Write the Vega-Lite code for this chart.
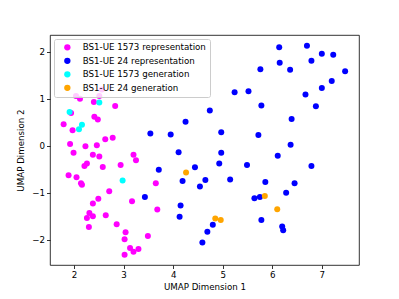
{
  "$schema": "https://vega.github.io/schema/vega-lite/v6.json",
  "autosize": "none",
  "width": 309,
  "height": 230,
  "padding": {"left": 50, "top": 35, "right": 40, "bottom": 34},
  "background": "white",
  "config": {
    "font": "DejaVu Sans",
    "view": {"stroke": "black", "strokeWidth": 0.8}
  },
  "datasets": {
    "pts": [
      {"g": "BS1-UE 1573 representation", "x": 2.56, "y": 1.20},
      {"g": "BS1-UE 1573 representation", "x": 2.04, "y": 1.06},
      {"g": "BS1-UE 1573 representation", "x": 2.12, "y": 1.00},
      {"g": "BS1-UE 1573 representation", "x": 2.51, "y": 1.06},
      {"g": "BS1-UE 1573 representation", "x": 2.40, "y": 0.93},
      {"g": "BS1-UE 1573 representation", "x": 2.83, "y": 0.85},
      {"g": "BS1-UE 1573 representation", "x": 1.94, "y": 0.70},
      {"g": "BS1-UE 1573 representation", "x": 2.41, "y": 0.62},
      {"g": "BS1-UE 1573 representation", "x": 2.48, "y": 0.56},
      {"g": "BS1-UE 1573 representation", "x": 1.79, "y": 0.46},
      {"g": "BS1-UE 1573 representation", "x": 1.97, "y": 0.33},
      {"g": "BS1-UE 1573 representation", "x": 1.92, "y": 0.04},
      {"g": "BS1-UE 1573 representation", "x": 2.23, "y": -0.01},
      {"g": "BS1-UE 1573 representation", "x": 2.46, "y": 0.01},
      {"g": "BS1-UE 1573 representation", "x": 2.63, "y": 0.14},
      {"g": "BS1-UE 1573 representation", "x": 2.78, "y": 0.17},
      {"g": "BS1-UE 1573 representation", "x": 1.99, "y": -0.15},
      {"g": "BS1-UE 1573 representation", "x": 2.38, "y": -0.19},
      {"g": "BS1-UE 1573 representation", "x": 2.51, "y": -0.23},
      {"g": "BS1-UE 1573 representation", "x": 3.20, "y": -0.19},
      {"g": "BS1-UE 1573 representation", "x": 3.25, "y": -0.31},
      {"g": "BS1-UE 1573 representation", "x": 2.21, "y": -0.43},
      {"g": "BS1-UE 1573 representation", "x": 2.26, "y": -0.38},
      {"g": "BS1-UE 1573 representation", "x": 2.58, "y": -0.45},
      {"g": "BS1-UE 1573 representation", "x": 2.94, "y": -0.41},
      {"g": "BS1-UE 1573 representation", "x": 1.89, "y": -0.63},
      {"g": "BS1-UE 1573 representation", "x": 2.05, "y": -0.67},
      {"g": "BS1-UE 1573 representation", "x": 2.14, "y": -0.80},
      {"g": "BS1-UE 1573 representation", "x": 2.16, "y": -0.83},
      {"g": "BS1-UE 1573 representation", "x": 3.65, "y": -0.80},
      {"g": "BS1-UE 1573 representation", "x": 2.71, "y": -0.97},
      {"g": "BS1-UE 1573 representation", "x": 2.49, "y": -1.13},
      {"g": "BS1-UE 1573 representation", "x": 3.17, "y": -1.18},
      {"g": "BS1-UE 1573 representation", "x": 2.38, "y": -1.23},
      {"g": "BS1-UE 1573 representation", "x": 3.68, "y": -1.36},
      {"g": "BS1-UE 1573 representation", "x": 2.31, "y": -1.43},
      {"g": "BS1-UE 1573 representation", "x": 2.26, "y": -1.54},
      {"g": "BS1-UE 1573 representation", "x": 2.38, "y": -1.50},
      {"g": "BS1-UE 1573 representation", "x": 2.64, "y": -1.48},
      {"g": "BS1-UE 1573 representation", "x": 2.30, "y": -1.73},
      {"g": "BS1-UE 1573 representation", "x": 2.86, "y": -1.67},
      {"g": "BS1-UE 1573 representation", "x": 3.04, "y": -1.84},
      {"g": "BS1-UE 1573 representation", "x": 3.02, "y": -1.99},
      {"g": "BS1-UE 1573 representation", "x": 3.49, "y": -1.92},
      {"g": "BS1-UE 1573 representation", "x": 3.13, "y": -2.18},
      {"g": "BS1-UE 1573 representation", "x": 3.20, "y": -2.26},
      {"g": "BS1-UE 1573 representation", "x": 3.30, "y": -2.20},
      {"g": "BS1-UE 1573 representation", "x": 3.02, "y": -2.32},
      {"g": "BS1-UE 24 representation", "x": 4.25, "y": 0.51},
      {"g": "BS1-UE 24 representation", "x": 3.54, "y": 0.26},
      {"g": "BS1-UE 24 representation", "x": 3.95, "y": 0.24},
      {"g": "BS1-UE 24 representation", "x": 4.74, "y": 0.75},
      {"g": "BS1-UE 24 representation", "x": 4.97, "y": 0.29},
      {"g": "BS1-UE 24 representation", "x": 5.24, "y": 1.14},
      {"g": "BS1-UE 24 representation", "x": 5.52, "y": 1.16},
      {"g": "BS1-UE 24 representation", "x": 6.14, "y": 2.10},
      {"g": "BS1-UE 24 representation", "x": 6.70, "y": 2.13},
      {"g": "BS1-UE 24 representation", "x": 7.00, "y": 1.96},
      {"g": "BS1-UE 24 representation", "x": 7.23, "y": 1.94},
      {"g": "BS1-UE 24 representation", "x": 6.15, "y": 1.77},
      {"g": "BS1-UE 24 representation", "x": 6.79, "y": 1.81},
      {"g": "BS1-UE 24 representation", "x": 5.76, "y": 1.63},
      {"g": "BS1-UE 24 representation", "x": 6.36, "y": 1.62},
      {"g": "BS1-UE 24 representation", "x": 7.47, "y": 1.59},
      {"g": "BS1-UE 24 representation", "x": 7.20, "y": 1.38},
      {"g": "BS1-UE 24 representation", "x": 7.00, "y": 1.23},
      {"g": "BS1-UE 24 representation", "x": 6.67, "y": 1.09},
      {"g": "BS1-UE 24 representation", "x": 5.78, "y": 0.86},
      {"g": "BS1-UE 24 representation", "x": 6.88, "y": 0.84},
      {"g": "BS1-UE 24 representation", "x": 6.39, "y": 0.57},
      {"g": "BS1-UE 24 representation", "x": 5.72, "y": 0.23},
      {"g": "BS1-UE 24 representation", "x": 6.37, "y": 0.02},
      {"g": "BS1-UE 24 representation", "x": 6.11, "y": -0.21},
      {"g": "BS1-UE 24 representation", "x": 6.79, "y": -0.43},
      {"g": "BS1-UE 24 representation", "x": 5.86, "y": -0.77},
      {"g": "BS1-UE 24 representation", "x": 6.45, "y": -0.80},
      {"g": "BS1-UE 24 representation", "x": 6.28, "y": -1.00},
      {"g": "BS1-UE 24 representation", "x": 5.75, "y": -1.09},
      {"g": "BS1-UE 24 representation", "x": 5.64, "y": -1.12},
      {"g": "BS1-UE 24 representation", "x": 5.78, "y": -1.58},
      {"g": "BS1-UE 24 representation", "x": 6.20, "y": -1.72},
      {"g": "BS1-UE 24 representation", "x": 6.22, "y": -1.80},
      {"g": "BS1-UE 24 representation", "x": 4.11, "y": -0.14},
      {"g": "BS1-UE 24 representation", "x": 4.97, "y": -0.15},
      {"g": "BS1-UE 24 representation", "x": 3.71, "y": -0.51},
      {"g": "BS1-UE 24 representation", "x": 4.44, "y": -0.46},
      {"g": "BS1-UE 24 representation", "x": 4.93, "y": -0.38},
      {"g": "BS1-UE 24 representation", "x": 5.49, "y": -0.41},
      {"g": "BS1-UE 24 representation", "x": 4.19, "y": -0.75},
      {"g": "BS1-UE 24 representation", "x": 4.65, "y": -0.73},
      {"g": "BS1-UE 24 representation", "x": 4.54, "y": -0.87},
      {"g": "BS1-UE 24 representation", "x": 5.15, "y": -0.72},
      {"g": "BS1-UE 24 representation", "x": 4.15, "y": -1.27},
      {"g": "BS1-UE 24 representation", "x": 4.13, "y": -1.51},
      {"g": "BS1-UE 24 representation", "x": 4.80, "y": -1.68},
      {"g": "BS1-UE 24 representation", "x": 4.69, "y": -1.83},
      {"g": "BS1-UE 24 representation", "x": 4.59, "y": -2.06},
      {"g": "BS1-UE 24 representation", "x": 3.43, "y": -1.09},
      {"g": "BS1-UE 1573 generation", "x": 1.91, "y": 0.72},
      {"g": "BS1-UE 1573 generation", "x": 2.51, "y": 0.92},
      {"g": "BS1-UE 1573 generation", "x": 2.16, "y": 0.45},
      {"g": "BS1-UE 1573 generation", "x": 2.10, "y": 0.35},
      {"g": "BS1-UE 1573 generation", "x": 2.98, "y": -0.74},
      {"g": "BS1-UE 24 generation", "x": 4.26, "y": -0.57},
      {"g": "BS1-UE 24 generation", "x": 4.85, "y": -1.55},
      {"g": "BS1-UE 24 generation", "x": 4.96, "y": -1.58},
      {"g": "BS1-UE 24 generation", "x": 5.85, "y": -1.07},
      {"g": "BS1-UE 24 generation", "x": 6.10, "y": -1.35}
    ]
  },
  "data": {"name": "pts"},
  "mark": {"type": "circle", "size": 36, "opacity": 1},
  "encoding": {
    "x": {
      "field": "x", "type": "quantitative",
      "scale": {"domain": [1.515, 7.75], "nice": false, "zero": false},
      "axis": {
        "title": "UMAP Dimension 1", "values": [2, 3, 4, 5, 6, 7], "grid": false,
        "domain": false, "tickColor": "black", "tickSize": 3.5, "tickWidth": 0.8,
        "labelColor": "black", "labelFontSize": 8.7, "labelPadding": 2,
        "titleColor": "black", "titleFontSize": 8.7, "titleFontWeight": "normal", "titlePadding": 3
      }
    },
    "y": {
      "field": "y", "type": "quantitative",
      "scale": {"domain": [-2.54, 2.36], "nice": false, "zero": false},
      "axis": {
        "title": "UMAP Dimension 2", "values": [-2, -1, 0, 1, 2], "grid": false,
        "domain": false, "tickColor": "black", "tickSize": 3.5, "tickWidth": 0.8,
        "labelColor": "black", "labelFontSize": 8.7, "labelPadding": 2,
        "titleColor": "black", "titleFontSize": 8.7, "titleFontWeight": "normal", "titlePadding": 6
      }
    },
    "color": {
      "field": "g", "type": "nominal",
      "scale": {
        "domain": ["BS1-UE 1573 representation", "BS1-UE 24 representation", "BS1-UE 1573 generation", "BS1-UE 24 generation"],
        "range": ["#ff00ff", "#0000ff", "#00ffff", "#ffa500"]
      },
      "legend": {
        "title": null, "orient": "top-left", "offset": 4,
        "fillColor": "rgba(255,255,255,0.8)", "strokeColor": "#cccccc", "cornerRadius": 2,
        "padding": 4, "symbolType": "circle", "symbolSize": 40, "symbolOffset": 5,
        "labelFontSize": 8.7, "labelColor": "black", "labelOffset": 11, "rowPadding": 3.5
      }
    }
  }
}
